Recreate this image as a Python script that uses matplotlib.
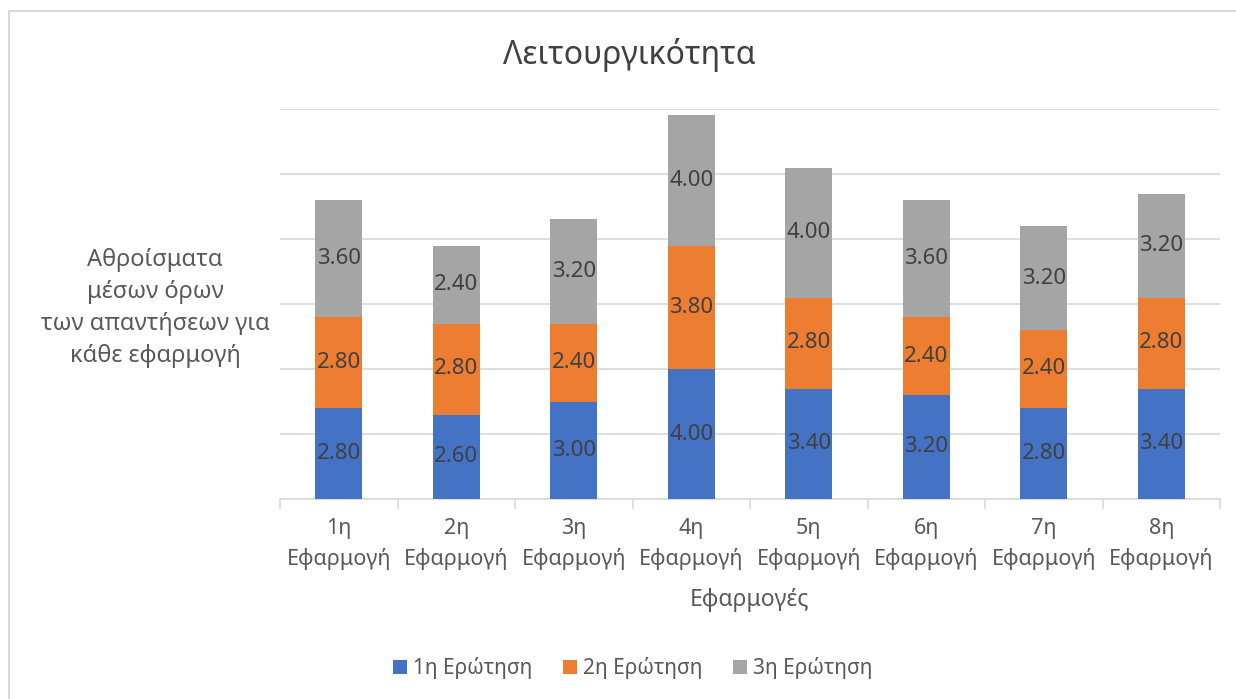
import numpy as np
import matplotlib.pyplot as plt
from matplotlib.patches import Rectangle

plt.rcParams['font.family'] = ['Noto Sans', 'DejaVu Sans']

# ---- data ----
categories = ["1η\nΕφαρμογή", "2η\nΕφαρμογή", "3η\nΕφαρμογή", "4η\nΕφαρμογή",
              "5η\nΕφαρμογή", "6η\nΕφαρμογή", "7η\nΕφαρμογή", "8η\nΕφαρμογή"]
q1 = [2.8, 2.6, 3.0, 4.0, 3.4, 3.2, 2.8, 3.4]
q2 = [2.8, 2.8, 2.4, 3.8, 2.8, 2.4, 2.4, 2.8]
q3 = [3.6, 2.4, 3.2, 4.0, 4.0, 3.6, 3.2, 3.2]
series_names = ["1η Ερώτηση", "2η Ερώτηση", "3η Ερώτηση"]
colors = ["#4472C4", "#ED7D31", "#A5A5A5"]

W, H = 1236, 699
fig = plt.figure(figsize=(W / 100, H / 100), dpi=100)

# chart border (Excel chart area)
fig.patches.append(Rectangle((9 / W, -0.05), 1.2, 1 - 11 / H + 0.05,
                             transform=fig.transFigure, fill=False,
                             edgecolor="#D9D9D9", linewidth=1.5))

ax = fig.add_axes([280 / W, 1 - 499 / H, (1220 - 280) / W, (499 - 109) / H])

x = np.arange(len(categories))
bottom = np.zeros(len(categories))
for vals, name, c in zip([q1, q2, q3], series_names, colors):
    bars = ax.bar(x, vals, 0.4, bottom=bottom, color=c, label=name, zorder=3)
    ax.bar_label(bars, labels=[f"{v:.2f}" for v in vals], label_type="center",
                 color="#404040", fontsize=16)
    bottom += np.array(vals)

ax.set_xlim(-0.5, len(categories) - 0.5)
ax.set_ylim(0, 12)
ax.set_yticks(np.arange(0, 13, 2))
ax.yaxis.grid(True, color="#D9D9D9", linewidth=1.2, zorder=0)
ax.tick_params(axis="y", left=False, labelleft=False)

ax.set_xticks(x)
ax.set_xticklabels(categories, fontsize=15.5, color="#595959", linespacing=1.55)
ax.set_xticks(np.arange(-0.5, len(categories), 1), minor=True)
ax.tick_params(axis="x", which="major", length=0, pad=13.5)
ax.tick_params(axis="x", which="minor", length=7, color="#D9D9D9", width=1.2)

for s in ["top", "right", "left"]:
    ax.spines[s].set_visible(False)
ax.spines["bottom"].set_color("#D9D9D9")
ax.spines["bottom"].set_linewidth(1.2)

fig.text(629 / W, 1 - 55 / H, "Λειτουργικότητα", ha="center", va="center",
         fontsize=23, color="#404040")
fig.text(155 / W, 1 - 308 / H, "Αθροίσματα\nμέσων όρων\nτων απαντήσεων για\nκάθε εφαρμογή",
         ha="center", va="center", fontsize=17, color="#595959", linespacing=1.46)
fig.text(750 / W, 1 - 600 / H, "Εφαρμογές", ha="center", va="center",
         fontsize=16.5, color="#595959")

fig.legend(loc="center", bbox_to_anchor=(633 / W, 1 - 668 / H), ncol=3,
           frameon=False, fontsize=15, labelcolor="#595959",
           handlelength=0.67, handleheight=0.67, handletextpad=0.3, columnspacing=1.45)

fig.savefig("out.png", dpi=100)
